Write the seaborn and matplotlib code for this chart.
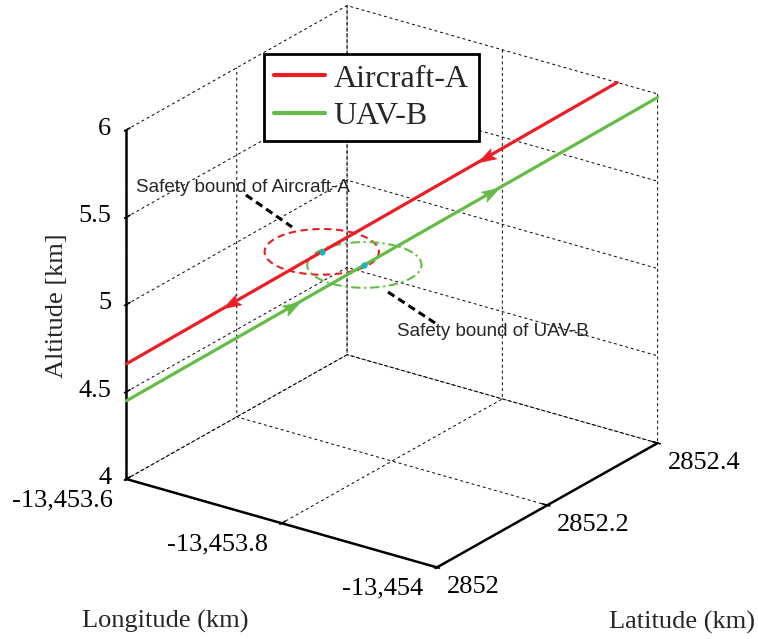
import numpy as np
import matplotlib
matplotlib.use("Agg")
import matplotlib.pyplot as plt
import seaborn as sns
from mpl_toolkits.mplot3d import proj3d
from matplotlib.markers import MarkerStyle
from matplotlib.path import Path
from matplotlib.transforms import Affine2D
from matplotlib.lines import Line2D

# ---------------- data ----------------
series = ["Aircraft-A", "UAV-B"]
colors = ["#EE1D25", "#64BC46"]
lat_A = [2852.0, 2852.4]
lon_A = [-13453.6, -13453.948]
alt_A = [4.66, 6.0]
lat_B = [2852.0, 2852.4]
lon_B = [-13453.6, -13454.0]
alt_B = [4.448, 5.98]
travel_dir = [-1, 1]                 # A flies toward start, B toward end
center_frac = [0.398, 0.448]         # current position along each path
bound_radius = [0.06, 0.06]          # safety bound radius (km)
arrow_frac_A = [0.215, 0.735]
arrow_frac_B = [0.31, 0.685]
lat_ticks = [2852.0, 2852.2, 2852.4]
lat_ticklabels = ["2852", "2852.2", "2852.4"]
lon_ticks = [-13454.0, -13453.8, -13453.6]
lon_ticklabels = ["-13,454", "-13,453.8", "-13,453.6"]
alt_ticks = [4, 4.5, 5, 5.5, 6]
alt_ticklabels = ["4", "4.5", "5", "5.5", "6"]
lat_lim = (2852.0, 2852.4)
lon_lim = (-13454.0, -13453.6)
alt_lim = (4.0, 6.0)

# ---------------- style ----------------
sns.set_theme(style="white")
plt.rcParams["font.family"] = ["Liberation Serif", "DejaVu Serif"]

W_PX, H_PX = 758, 639
fig = plt.figure(figsize=(W_PX / 100, H_PX / 100), dpi=100)
ax = fig.add_subplot(projection="3d", proj_type="ortho", computed_zorder=False)
ax.set_position([0.1, 0.05, 0.85, 0.9])
ax.view_init(elev=23.6, azim=215.4)
ax.set_xlim(*lat_lim)
ax.set_ylim(*lon_lim)
ax.set_zlim(*alt_lim)
ax.set_box_aspect((1, 1, 1))

for axis in (ax.xaxis, ax.yaxis, ax.zaxis):
    axis.set_pane_color((1, 1, 1, 0))
    axis.pane.set_edgecolor((1, 1, 1, 0))
    axis._axinfo["grid"].update(color="black", linewidth=0.7, linestyle=(0, (3, 3)))
    axis._axinfo["tick"].update(inward_factor=0.1, outward_factor=0.2)
    axis.line.set_color("black")
    axis.line.set_linewidth(1.8)
ax.grid(True)

ax.set_xticks(lat_ticks)
ax.set_yticks(lon_ticks)
ax.set_zticks(alt_ticks)
ax.set_xticklabels([])
ax.set_yticklabels([])
ax.set_zticklabels([])
ax.tick_params(colors="black", width=1.2)

# ---------------- fit the box to the target region ----------------
corners = np.array([[x, y, z] for x in lat_lim for y in lon_lim for z in alt_lim])


def to_display(p):
    X, Y, _ = proj3d.proj_transform(p[0], p[1], p[2], ax.get_proj())
    return ax.transData.transform(np.column_stack([np.atleast_1d(X), np.atleast_1d(Y)]))


target = (126, 658, H_PX - 567, H_PX - 6)   # box bounds in figure pixels
for _ in range(2):
    fig.canvas.draw()
    pts = to_display(corners.T)
    bx0, bx1 = pts[:, 0].min(), pts[:, 0].max()
    by0, by1 = pts[:, 1].min(), pts[:, 1].max()
    s = 0.5 * ((target[1] - target[0]) / (bx1 - bx0) + (target[3] - target[2]) / (by1 - by0))
    bb = ax.get_position().transformed(fig.transFigure)
    acx, acy = (bb.x0 + bb.x1) / 2, (bb.y0 + bb.y1) / 2
    ccx, ccy = (bx0 + bx1) / 2, (by0 + by1) / 2
    tcx, tcy = (target[0] + target[1]) / 2, (target[2] + target[3]) / 2
    ncx = tcx - s * (ccx - acx)
    ncy = tcy - s * (ccy - acy)
    nw, nh = bb.width * s, bb.height * s
    ax.set_position([(ncx - nw / 2) / W_PX, (ncy - nh / 2) / H_PX, nw / W_PX, nh / H_PX])

fig.canvas.draw()

# ---------------- tick labels (MATLAB-like placement) ----------------
tick_font = dict(fontsize=19, family="Liberation Serif", color="black")
for v, lab in zip(lat_ticks, lat_ticklabels):
    d = to_display(np.array([[v], [lon_lim[0]], [alt_lim[0]]]))[0]
    fig.text((d[0] + 10) / W_PX, (d[1] - 20) / H_PX, lab, ha="left", va="center", **tick_font)
for v, lab in zip(lon_ticks, lon_ticklabels):
    d = to_display(np.array([[lat_lim[0]], [v], [alt_lim[0]]]))[0]
    fig.text((d[0] - 14) / W_PX, (d[1] - 21) / H_PX, lab, ha="right", va="center", **tick_font)
for v, lab in zip(alt_ticks, alt_ticklabels):
    d = to_display(np.array([[lat_lim[0]], [lon_lim[1]], [v]]))[0]
    fig.text((d[0] - 15) / W_PX, (d[1] + 1) / H_PX, lab, ha="right", va="center", **tick_font)

# ---------------- trajectories ----------------
paths = [(np.array(lat_A), np.array(lon_A), np.array(alt_A)),
         (np.array(lat_B), np.array(lon_B), np.array(alt_B))]
arrow_fracs = [arrow_frac_A, arrow_frac_B]

arrow_path = Path([(1.0, 0.0), (-0.7, 0.55), (-0.35, 0.0), (-0.7, -0.55), (1.0, 0.0)],
                  [Path.MOVETO, Path.LINETO, Path.LINETO, Path.LINETO, Path.CLOSEPOLY])

for i, (la, lo, al) in enumerate(paths):
    ax.plot(la, lo, al, color=colors[i], lw=2.3, label=series[i], zorder=3)
    p0 = np.array([la[0], lo[0], al[0]])
    p1 = np.array([la[1], lo[1], al[1]])
    for f in arrow_fracs[i]:
        p = p0 + f * (p1 - p0)
        q = p + travel_dir[i] * 0.01 * (p1 - p0)
        d0 = to_display(p.reshape(3, 1))[0]
        d1 = to_display(q.reshape(3, 1))[0]
        ang = np.degrees(np.arctan2(d1[1] - d0[1], d1[0] - d0[0]))
        mk = MarkerStyle(arrow_path, transform=Affine2D().rotate_deg(ang))
        ax.plot([p[0]], [p[1]], [p[2]], marker=mk, markersize=15, color=colors[i],
                markeredgewidth=0.5, linestyle="none", zorder=4)

# safety bounds
theta = np.linspace(0, 2 * np.pi, 241)
bound_styles = [(0, (3.5, 2.2)), (0, (4.5, 1.8, 1.0, 1.8))]
for i, (la, lo, al) in enumerate(paths):
    f = center_frac[i]
    a = np.array([la[0], lo[0], al[0]])
    b = np.array([la[1], lo[1], al[1]])
    c = a + f * (b - a)
    ax.plot(c[0] + bound_radius[i] * np.cos(theta), c[1] + bound_radius[i] * np.sin(theta),
            np.full_like(theta, c[2]), color=colors[i], lw=1.5, linestyle=bound_styles[i], zorder=2)
    ax.plot([c[0]], [c[1]], [c[2]], marker="o", markersize=3.5, color="#1CB5C4",
            linestyle="none", zorder=5)

# ---------------- legend ----------------
handles = [Line2D([0], [0], color=colors[i], lw=3) for i in range(2)]
leg = fig.legend(handles, series, loc="upper left", bbox_to_anchor=(264 / W_PX, 1 - 54 / H_PX),
                 prop={"family": "Liberation Serif", "size": 23}, frameon=True, fancybox=False,
                 edgecolor="black", framealpha=1, handlelength=1.6, handletextpad=0.25,
                 borderpad=0.32, labelspacing=0.25, borderaxespad=0)
leg.get_frame().set_linewidth(2.0)

# ---------------- axis labels & annotations ----------------
fig.text(57 / W_PX, 1 - 306 / H_PX, "Altitude [km]", rotation=90, ha="center", va="center",
         fontsize=19, family="Liberation Serif")
fig.text(165 / W_PX, 1 - 621 / H_PX, "Longitude (km)", ha="center", va="center",
         fontsize=19, family="Liberation Serif")
fig.text(682 / W_PX, 1 - 622 / H_PX, "Latitude (km)", ha="center", va="center",
         fontsize=19, family="Liberation Serif")

fig.text(136 / W_PX, 1 - 187 / H_PX, "Safety bound of Aircraft-A", ha="left", va="center",
         fontsize=13.5, family="Liberation Sans")
fig.text(397 / W_PX, 1 - 332 / H_PX, "Safety bound of UAV-B", ha="left", va="center",
         fontsize=13.5, family="Liberation Sans")
for (x0, y0, x1, y1) in [(246, 195, 292, 227), (388, 292, 435, 323)]:
    fig.add_artist(Line2D([x0 / W_PX, x1 / W_PX], [1 - y0 / H_PX, 1 - y1 / H_PX],
                          transform=fig.transFigure, color="black", lw=2.2,
                          linestyle=(0, (2.5, 1.5))))

fig.savefig("out.png", dpi=100)
